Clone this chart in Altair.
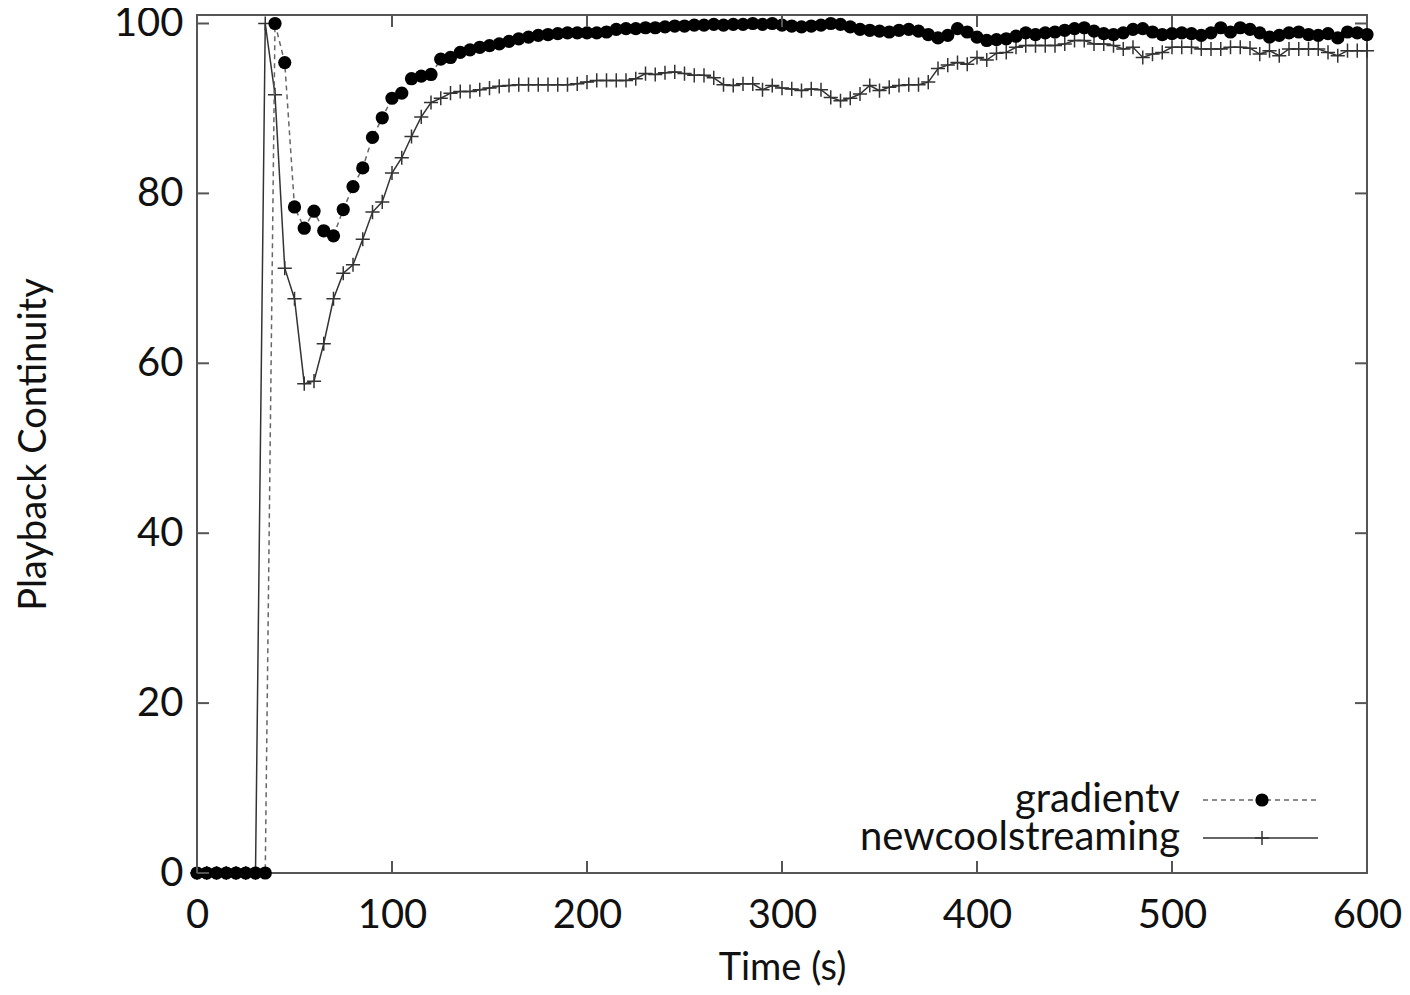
import altair as alt
import pandas as pd

times = [0, 5, 10, 15, 20, 25, 30, 35, 40, 45, 50, 55, 60, 65, 70, 75, 80, 85, 90, 95,
         100, 105, 110, 115, 120, 125, 130, 135, 140, 145, 150, 155, 160, 165, 170, 175, 180, 185, 190, 195,
         200, 205, 210, 215, 220, 225, 230, 235, 240, 245, 250, 255, 260, 265, 270, 275, 280, 285, 290, 295,
         300, 305, 310, 315, 320, 325, 330, 335, 340, 345, 350, 355, 360, 365, 370, 375, 380, 385, 390, 395,
         400, 405, 410, 415, 420, 425, 430, 435, 440, 445, 450, 455, 460, 465, 470, 475, 480, 485, 490, 495,
         500, 505, 510, 515, 520, 525, 530, 535, 540, 545, 550, 555, 560, 565, 570, 575, 580, 585, 590, 595,
         600]

gradientv = [0, 0, 0, 0, 0, 0, 0, 0,
             100, 95.4, 78.4, 75.9, 77.9, 75.6, 75.0, 78.1, 80.8, 83.0, 86.6, 88.9, 91.2, 91.8, 93.5, 93.8, 94.0,
             95.8, 96.0, 96.6, 96.9, 97.2, 97.4, 97.6, 97.9, 98.2, 98.4, 98.6, 98.7, 98.8, 98.9, 98.9,
             98.9, 98.9, 99.0, 99.3, 99.4, 99.4, 99.5, 99.5, 99.6, 99.7,
             99.7, 99.8, 99.8, 99.9, 99.8, 99.9, 99.9, 100, 99.9, 100,
             99.8, 99.7, 99.6, 99.7, 99.8, 100, 99.9, 99.6, 99.3, 99.2,
             99.1, 99.0, 99.2, 99.3, 99.1, 98.7, 98.3, 98.6, 99.4, 99.0,
             98.4, 98.0, 98.1, 98.2, 98.5, 98.9, 98.7, 98.9, 99.0, 99.2,
             99.4, 99.5, 99.1, 98.8, 98.7, 98.9, 99.3, 99.4, 99.0, 98.7,
             98.8, 98.9, 98.8, 98.6, 98.9, 99.5, 99.0, 99.5, 99.3, 98.9,
             98.4, 98.6, 98.9, 99.0, 98.7, 98.6, 98.8, 98.3, 99.0, 98.9,
             98.7]

newcoolstreaming = [0, 0, 0, 0, 0, 0, 0,
                    100, 91.6, 71.2, 67.6, 57.6, 57.9, 62.3, 67.6, 70.6, 71.6, 74.6, 77.8, 79.0, 82.4, 84.2,
                    86.7, 89.0, 90.7,
                    91.2, 91.8, 92.0, 92.0, 92.2, 92.4, 92.6, 92.7, 92.8, 92.8,
                    92.8, 92.8, 92.8, 92.8, 92.9, 93.1, 93.3, 93.3, 93.3, 93.3,
                    93.5, 94.1, 94.0, 94.2, 94.3, 94.1, 93.9, 93.9, 93.6, 92.8,
                    92.7, 92.9, 92.9, 92.2, 92.7, 92.4, 92.3, 92.1, 92.3, 92.2,
                    91.3, 90.9, 91.2, 91.7, 92.7, 92.1, 92.5, 92.7, 92.8, 92.8,
                    93.1, 94.7, 95.1, 95.4, 95.2, 96.0, 95.7, 96.5, 96.6, 97.2,
                    97.4, 97.4, 97.4, 97.4, 97.6, 98.0, 98.0, 97.6, 97.6, 97.4,
                    97.0, 97.2, 96.0, 96.4, 96.6, 97.2, 97.2, 97.2, 97.0, 97.0,
                    97.0, 97.2, 97.2, 97.1, 96.4, 96.8, 96.2, 97.0, 97.0, 97.0,
                    97.0, 96.6, 96.2, 96.8, 96.8, 96.8]

series_names = ["gradientv", "newcoolstreaming"]
x_ticks = [0, 100, 200, 300, 400, 500, 600]
y_ticks = [0, 20, 40, 60, 80, 100]

FONT = "Lato"
FS = 40
TFS = 38
W, H = 1170, 858
TICK = 12
FRAME = "#555555"

df_g = pd.DataFrame({"t": times, "v": gradientv})
df_n = pd.DataFrame({"t": times, "v": newcoolstreaming})
df_xt = pd.DataFrame({"t": x_ticks})
df_yt = pd.DataFrame({"v": y_ticks})

xs = alt.Scale(domain=[0, 600], nice=False, zero=False)
ys = alt.Scale(domain=[0, 101], nice=False)

x_axis = alt.Axis(values=x_ticks, grid=False, ticks=False, domain=False, labelPadding=22,
                  titlePadding=14, labelFont=FONT, titleFont=FONT,
                  labelFontSize=FS, titleFontSize=TFS, titleFontWeight="normal",
                  labelColor="#111111", titleColor="#111111", labelFlush=False)
y_axis = alt.Axis(values=y_ticks, grid=False, ticks=False, domain=False, labelPadding=14,
                  titlePadding=60, labelFont=FONT, titleFont=FONT,
                  labelFontSize=FS, titleFontSize=TFS, titleFontWeight="normal",
                  labelColor="#111111", titleColor="#111111", labelFlush=False)

XT = "Time (s)"
YT = "Playback Continuity"


def X():
    return alt.X("t:Q", scale=xs, axis=x_axis, title=XT)


def Y():
    return alt.Y("v:Q", scale=ys, axis=y_axis, title=YT)


cross = "M-1,0L1,0M0,-1L0,1"

n_line = alt.Chart(df_n).mark_line(color="#333333", strokeWidth=1.5).encode(x=X(), y=Y())
n_pts = alt.Chart(df_n).mark_point(shape=cross, filled=False, size=200, strokeWidth=1.5,
                                   color="#333333", opacity=1).encode(x=X(), y=Y())
g_line = alt.Chart(df_g).mark_line(color="#666666", strokeWidth=1.5, strokeDash=[5, 4]).encode(x=X(), y=Y())
g_pts = alt.Chart(df_g).mark_circle(size=175, color="#000000", opacity=1).encode(x=X(), y=Y())

tick_style = dict(color=FRAME, strokeWidth=2)
t_bottom = alt.Chart(df_xt).mark_rule(**tick_style).encode(
    x=X(), y=alt.value(H), y2=alt.value(H - TICK))
t_top = alt.Chart(df_xt).mark_rule(**tick_style).encode(
    x=X(), y=alt.value(0), y2=alt.value(TICK))
t_left = alt.Chart(df_yt).mark_rule(**tick_style).encode(
    y=Y(), x=alt.value(0), x2=alt.value(TICK))
t_right = alt.Chart(df_yt).mark_rule(**tick_style).encode(
    y=Y(), x=alt.value(W - TICK), x2=alt.value(W))

# legend (inside plot, bottom right)
LX_TEXT, LX0, LX1, LXM = 983, 1006, 1121, 1065
LY = [785, 823]
leg_g_df = pd.DataFrame({"name": [series_names[0]]})
leg_n_df = pd.DataFrame({"name": [series_names[1]]})

leg_g_text = alt.Chart(leg_g_df).mark_text(font=FONT, fontSize=FS, align="right", baseline="middle",
                                           color="#111111").encode(
    text="name:N", x=alt.value(LX_TEXT), y=alt.value(LY[0]))
leg_g_line = alt.Chart(leg_g_df).mark_rule(color="#666666", strokeWidth=1.5, strokeDash=[5, 4]).encode(
    x=alt.value(LX0), x2=alt.value(LX1), y=alt.value(LY[0]))
leg_g_pt = alt.Chart(leg_g_df).mark_circle(size=175, color="#000000", opacity=1).encode(
    x=alt.value(LXM), y=alt.value(LY[0]))

leg_n_text = alt.Chart(leg_n_df).mark_text(font=FONT, fontSize=FS, align="right", baseline="middle",
                                           color="#111111").encode(
    text="name:N", x=alt.value(LX_TEXT), y=alt.value(LY[1]))
leg_n_line = alt.Chart(leg_n_df).mark_rule(color="#333333", strokeWidth=1.5).encode(
    x=alt.value(LX0), x2=alt.value(LX1), y=alt.value(LY[1]))
leg_n_pt = alt.Chart(leg_n_df).mark_point(shape=cross, filled=False, size=200, strokeWidth=1.5,
                                          color="#333333", opacity=1).encode(
    x=alt.value(LXM), y=alt.value(LY[1]))

chart = alt.layer(
    n_line, n_pts, g_line, g_pts,
    t_bottom, t_top, t_left, t_right,
    leg_g_line, leg_g_pt, leg_g_text, leg_n_line, leg_n_pt, leg_n_text,
).properties(
    width=W, height=H,
    autosize=alt.AutoSizeParams(type="none"),
    padding={"left": 189, "top": 7, "right": 35, "bottom": 114},
    background="white",
).configure_view(stroke=FRAME, strokeWidth=2)

chart.save("out.html", embed_options={"renderer": "svg", "actions": False})
